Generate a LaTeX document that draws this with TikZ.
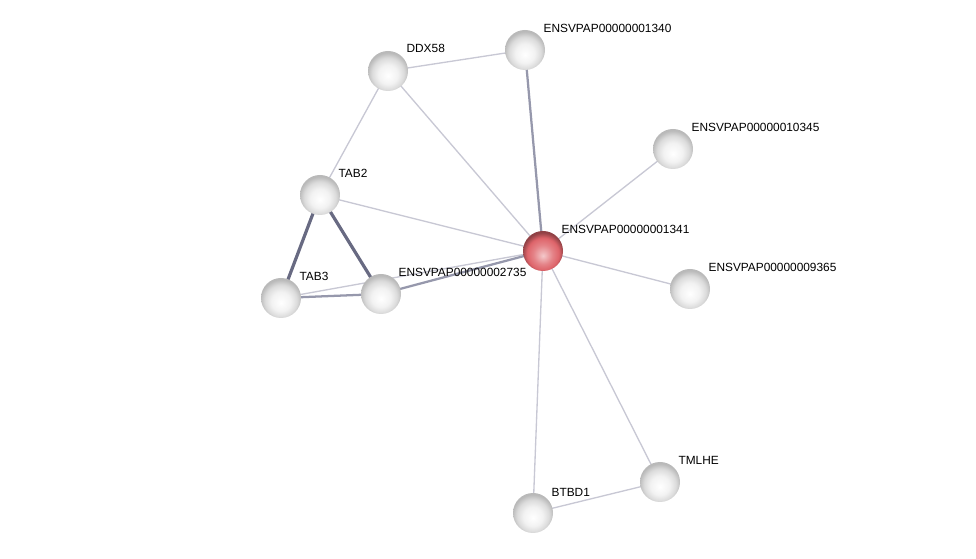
\documentclass[tikz,border=0pt]{standalone}
\usepackage{fontspec}
\setmainfont{Liberation Sans}
\usetikzlibrary{backgrounds, calc}
\definecolor{kante}{RGB}{200, 200, 212}
\definecolor{kanteM}{RGB}{150, 152, 172}
\definecolor{kanteD}{RGB}{104, 106, 130}
\definecolor{rot}{RGB}{222, 100, 106}
\pgfdeclareradialshading{glasgrau}{\pgfpoint{0bp}{-6bp}}{%
  color(0bp)=(white); color(12bp)=(gray!10); color(20bp)=(gray!28);
  color(26bp)=(gray!55); color(50bp)=(gray!55)}
\pgfdeclareradialshading{glasrot}{\pgfpoint{0bp}{-6bp}}{%
  color(0bp)=(rot!35!white); color(12bp)=(rot!80!white); color(20bp)=(rot);
  color(26bp)=(rot!65!black); color(50bp)=(rot!65!black)}
\tikzset{
  kugel/.style={
    circle, minimum size=30pt, inner sep=0pt,
    shading=glasgrau
  },
  kugelR/.style={kugel, shading=glasrot},
  etikett/.style={anchor=west, inner sep=1pt, font=\fontsize{8.9}{10}\selectfont},
  duenn/.style={kante, line width=1pt},
  mittel/.style={kanteM, line width=1.7pt},
  dick/.style={kanteD, line width=2.4pt},
}

\begin{document}
\begin{tikzpicture}[x=0.75pt, y=-0.75pt]
\useasboundingbox (0,0) rectangle (976,559);

% proteins
\node[kugel] (ddx) at (388,71) {};
\node[kugel] (p1340) at (525,50) {};
\node[kugel] (p10345) at (673,149) {};
\node[kugel] (tab2) at (320,195) {};
\node[kugelR] (p1341) at (543,251) {};
\node[kugel] (p9365) at (690,289) {};
\node[kugel] (tab3) at (281,298) {};
\node[kugel] (p2735) at (381,294) {};
\node[kugel] (tmlhe) at (660,482) {};
\node[kugel] (btbd) at (533,513) {};

% labels
\node[etikett] (l-ddx) at ($(ddx)+(17,-23)$) {DDX58};
\node[etikett] (l-1340) at ($(p1340)+(17,-22)$) {ENSVPAP00000001340};
\node[etikett] (l-10345) at ($(p10345)+(17,-22)$) {ENSVPAP00000010345};
\node[etikett] (l-tab2) at ($(tab2)+(17,-22)$) {TAB2};
\node[etikett] (l-1341) at ($(p1341)+(17,-22)$) {ENSVPAP00000001341};
\node[etikett] (l-9365) at ($(p9365)+(17,-22)$) {ENSVPAP00000009365};
\node[etikett] (l-tab3) at ($(tab3)+(17,-22)$) {TAB3};
\node[etikett] (l-2735) at ($(p2735)+(16,-22)$) {ENSVPAP00000002735};
\node[etikett] (l-tmlhe) at ($(tmlhe)+(17,-22)$) {TMLHE};
\node[etikett] (l-btbd) at ($(btbd)+(17,-21)$) {BTBD1};

% interactions
\begin{scope}[on background layer]
\draw[duenn] (ddx.center) -- (p1340.center);
\draw[duenn] (ddx.center) -- (tab2.center);
\draw[duenn] (ddx.center) -- (p1341.center);
\draw[mittel] (p1340.center) -- (p1341.center);
\draw[duenn] (p10345.center) -- (p1341.center);
\draw[duenn] (tab2.center) -- (p1341.center);
\draw[dick] (tab2.center) -- (tab3.center);
\draw[dick] (tab2.center) -- (p2735.center);
\draw[mittel] (tab3.center) -- (p2735.center);
\draw[duenn] (tab3.center) -- (p1341.center);
\draw[mittel] (p2735.center) -- (p1341.center);
\draw[duenn] (p1341.center) -- (p9365.center);
\draw[duenn] (p1341.center) -- (btbd.center);
\draw[duenn] (p1341.center) -- (tmlhe.center);
\draw[duenn] (btbd.center) -- (tmlhe.center);
\end{scope}

\end{tikzpicture}
\end{document}
